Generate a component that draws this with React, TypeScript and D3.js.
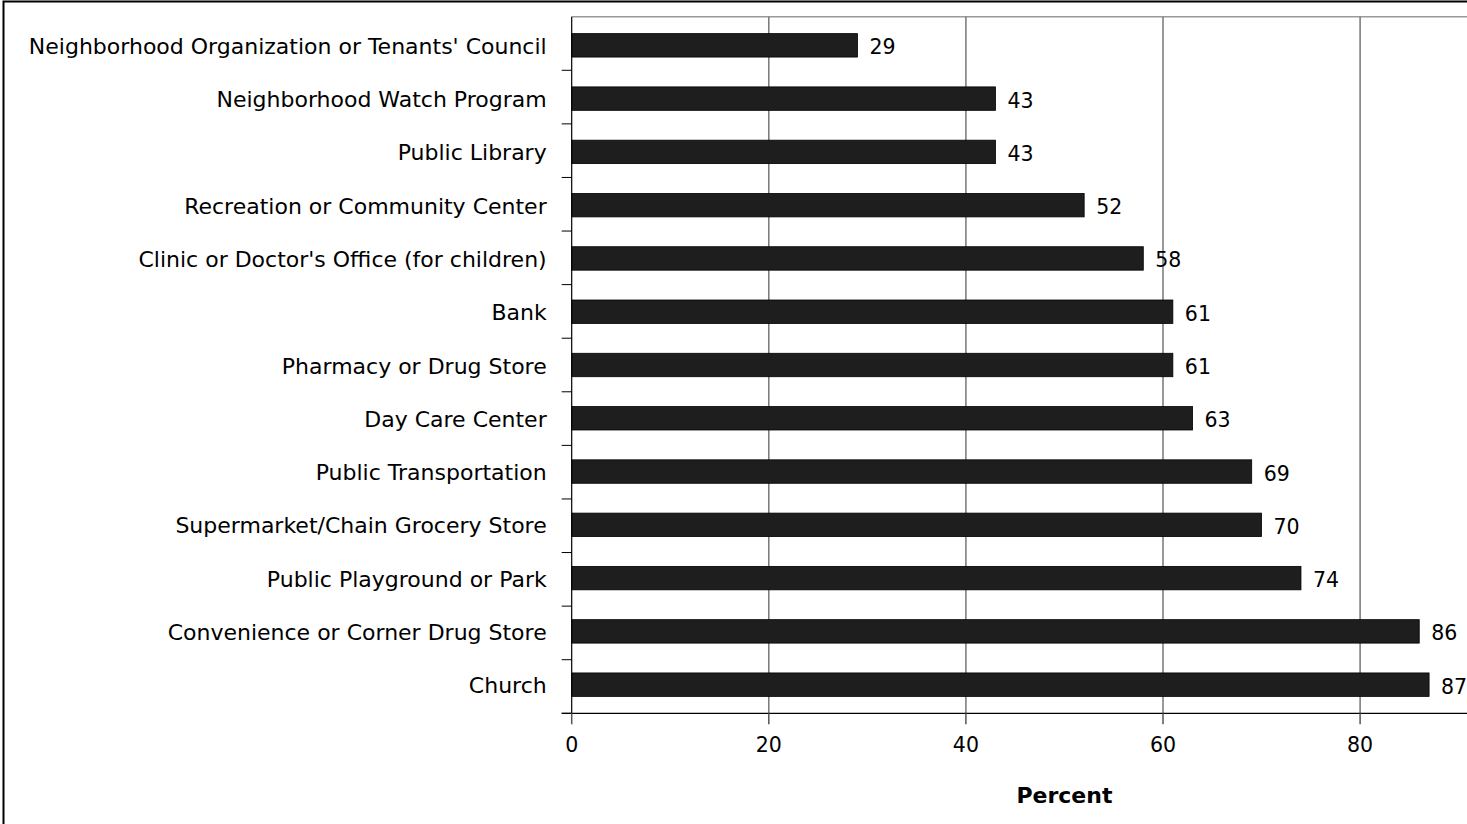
import React from "react";
import * as d3 from "d3";

const categories = [
  "Neighborhood Organization or Tenants' Council",
  "Neighborhood Watch Program",
  "Public Library",
  "Recreation or Community Center",
  "Clinic or Doctor's Office (for children)",
  "Bank",
  "Pharmacy or Drug Store",
  "Day Care Center",
  "Public Transportation",
  "Supermarket/Chain Grocery Store",
  "Public Playground or Park",
  "Convenience or Corner Drug Store",
  "Church",
];
const values = [29, 43, 43, 52, 58, 61, 61, 63, 69, 70, 74, 86, 87];
const xTicks = [0, 20, 40, 60, 80, 100];
const axisTitle = "Percent";

const W = 1467;
const H = 824;
const FONT = "'DejaVu Sans', Verdana, sans-serif";

export default function App() {
  const left = 571.7;
  const top = 16.7;
  const bottom = 713.3;
  const x = d3.scaleLinear().domain([0, 100]).range([left, left + 197.1 * 5]);
  const y = d3.scaleBand<string>().domain(categories).range([top + 2, bottom - 2]).paddingInner(0.56).paddingOuter(0.28);
  const band = d3.scaleBand<string>().domain(categories).range([top, bottom]);
  const right = x(100);

  return (
    <div style={{ position: "fixed", left: 0, top: 0, width: W, height: H, background: "#fff" }}>
      <svg width={W} height={H} style={{ display: "block" }} fontFamily={FONT}>
        <rect x={0} y={0} width={W} height={H} fill="#fff" />
        {/* outer frame */}
        <rect x={3.5} y={1.5} width={W + 20} height={H + 20} fill="none" stroke="#000" strokeWidth={2} />
        {/* plot area top border */}
        <line x1={left} x2={right} y1={top} y2={top} stroke="#999" strokeWidth={1.5} />
        {/* gridlines */}
        {xTicks.filter((t) => t > 0).map((t) => (
          <line key={"g" + t} x1={x(t)} x2={x(t)} y1={top} y2={bottom} stroke="#777" strokeWidth={1.5} />
        ))}
        {/* bars */}
        {categories.map((c, i) => (
          <rect
            key={c}
            x={x(0)}
            y={y(c) as number}
            width={x(values[i]) - x(0)}
            height={y.bandwidth()}
            fill="#1e1e1e"
            stroke="#000"
            strokeWidth={0.8}
          />
        ))}
        {/* value labels */}
        {categories.map((c, i) => (
          <text
            key={"v" + c}
            x={x(values[i]) + 12}
            y={(y(c) as number) + y.bandwidth() / 2 + 2}
            dominantBaseline="central"
            fontSize={20.5}
            fill="#000"
          >
            {values[i]}
          </text>
        ))}
        {/* y axis */}
        <line x1={left} x2={left} y1={top} y2={bottom} stroke="#000" strokeWidth={1.2} />
        {categories.map((c) => (
          <line key={"yt" + c} x1={left - 10} x2={left} y1={(band(c) as number) + band.bandwidth()} y2={(band(c) as number) + band.bandwidth()} stroke="#000" strokeWidth={1} />
        ))}
        {categories.map((c) => (
          <text
            key={"yl" + c}
            x={left - 25}
            y={(y(c) as number) + y.bandwidth() / 2 + 1}
            textAnchor="end"
            dominantBaseline="central"
            fontSize={22}
            fill="#000"
          >
            {c}
          </text>
        ))}
        {/* x axis */}
        <line x1={left - 10} x2={right} y1={bottom} y2={bottom} stroke="#000" strokeWidth={1.2} />
        {xTicks.map((t) => (
          <g key={"xt" + t}>
            <line x1={x(t)} x2={x(t)} y1={bottom} y2={bottom + 11} stroke="#555" strokeWidth={1.5} />
            <text x={x(t)} y={bottom + 32} textAnchor="middle" dominantBaseline="central" fontSize={20.5} fill="#000">
              {t}
            </text>
          </g>
        ))}
        <text
          x={(x(0) + x(100)) / 2}
          y={795}
          textAnchor="middle"
          dominantBaseline="central"
          fontSize={22}
          fontWeight="bold"
          fill="#000"
        >
          {axisTitle}
        </text>
      </svg>
    </div>
  );
}
